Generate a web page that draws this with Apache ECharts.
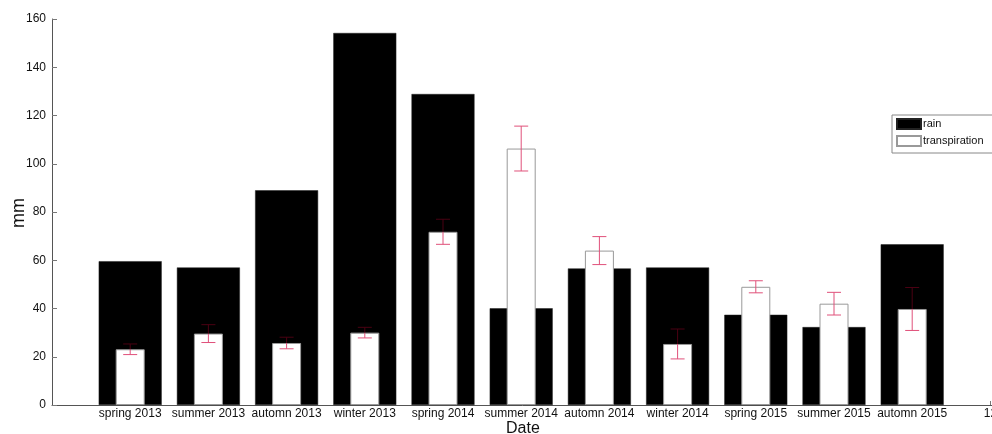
<!DOCTYPE html>
<html>
<head>
<meta charset="utf-8">
<script src="https://cdn.jsdelivr.net/npm/echarts@6/dist/echarts.min.js"></script>
<style>html,body{margin:0;padding:0;background:#fff}#c{width:992px;height:434px}</style>
</head>
<body>
<div id="c"></div>
<script>
const categories = ['spring 2013','summer 2013','automn 2013','winter 2013','spring 2014','summer 2014','automn 2014','winter 2014','spring 2015','summer 2015','automn 2015'];
const positions = [1,2,3,4,5,6,7,8,9,10,11];
const rain = [59.6, 57, 89, 154.2, 128.9, 40.1, 56.6, 57, 37.4, 32.3, 66.6];
const transpiration = [23.1, 29.6, 25.7, 30, 71.8, 106.3, 64, 25.3, 49, 42, 39.8];
const transpErr = [2.2, 3.7, 2.4, 2.2, 5.2, 9.3, 5.8, 6.2, 2.5, 4.7, 8.9];
const yTicks = [0, 20, 40, 60, 80, 100, 120, 140, 160];
const extraTickLabel = {12: '12'};

const chart = echarts.init(document.getElementById('c'), null, {renderer: 'canvas'});
const FONT = 'Liberation Sans, Arial, sans-serif';
const PINK = '#e0507a';
const DARK = '#4a0012';

const rainData = positions.map((x, i) => [x, rain[i]]);
const trData = positions.map((x, i) => [x, transpiration[i]]);
const errData = positions.map((x, i) => [x, transpiration[i], transpErr[i], rain[i]]);

function xLabel(v) {
  const i = positions.indexOf(v);
  if (i >= 0) return categories[i];
  return extraTickLabel[v] || '';
}

const option = {
  backgroundColor: '#ffffff',
  animation: false,
  textStyle: {fontFamily: FONT},
  grid: {left: 52, top: 19, bottom: 29, right: -76.6, containLabel: false, outerBoundsMode: 'none'},
  legend: {
    orient: 'vertical', left: 892, top: 115,
    backgroundColor: '#fff', borderColor: '#888', borderWidth: 1,
    padding: [3, 90, 6, 4], itemGap: 5, itemWidth: 24, itemHeight: 10,
    icon: 'rect',
    textStyle: {fontSize: 11, color: '#111', fontFamily: FONT, padding: [0, 0, 0, -3]},
    data: ['rain', 'transpiration']
  },
  xAxis: [{
    type: 'value', min: 0, max: 13, interval: 1,
    axisLine: {show: true, lineStyle: {color: '#555', width: 1}},
    axisTick: {show: true, inside: true, length: 4, lineStyle: {color: '#777'}},
    splitLine: {show: false},
    axisLabel: {formatter: xLabel, fontSize: 12, color: '#111', margin: 3, fontFamily: FONT, showMinLabel: false, showMaxLabel: false, hideOverlap: false}
  }, {
    type: 'value', min: 0, max: 13, interval: 1, show: false
  }],
  yAxis: {
    type: 'value', min: yTicks[0], max: yTicks[yTicks.length - 1], interval: yTicks[1] - yTicks[0],
    axisLine: {show: true, lineStyle: {color: '#555', width: 1}},
    axisTick: {show: true, inside: true, length: 5, lineStyle: {color: '#777'}},
    splitLine: {show: false},
    axisLabel: {fontSize: 12, color: '#111', margin: 6, fontFamily: FONT}
  },
  graphic: [{
    type: 'text', left: 506, top: 421,
    style: {text: 'Date', font: '16px ' + FONT, fill: '#111'}
  }, {
    type: 'text', x: 19, y: 213, rotation: Math.PI / 2,
    style: {text: 'mm', font: '18px ' + FONT, fill: '#111', align: 'center', verticalAlign: 'middle'}
  }],
  series: [{
    name: 'rain', type: 'bar', xAxisIndex: 0, barWidth: 63, data: rainData, z: 1,
    itemStyle: {color: '#000', borderColor: '#222', borderWidth: 0.5}
  }, {
    name: 'transpiration', type: 'bar', xAxisIndex: 1, barWidth: 29, data: trData, z: 3,
    itemStyle: {color: '#fff', borderColor: '#999', borderWidth: 1}
  }, {
    name: 'err', type: 'custom', xAxisIndex: 0, z: 5, data: errData,
    renderItem: function (params, api) {
      const x = api.value(0), t = api.value(1), e = api.value(2), r = api.value(3);
      const lo = t - e, hi = t + e;
      const cap = 7;
      const children = [];
      const seg = (a, b, col) => {
        if (b <= a) return;
        const p1 = api.coord([x, a]), p2 = api.coord([x, b]);
        children.push({type: 'line', shape: {x1: p1[0], y1: p1[1], x2: p2[0], y2: p2[1]}, style: {stroke: col, lineWidth: 1}});
      };
      const inBlack = v => (r > t && v > t && v < r);
      const capAt = v => {
        const p = api.coord([x, v]);
        children.push({type: 'line', shape: {x1: p[0] - cap, y1: p[1], x2: p[0] + cap, y2: p[1]}, style: {stroke: inBlack(v) ? DARK : PINK, lineWidth: 1}});
      };
      if (r > t) {
        seg(lo, Math.min(hi, t), PINK);
        seg(Math.max(lo, t), Math.min(hi, r), DARK);
        seg(Math.max(lo, r), hi, PINK);
      } else {
        seg(lo, hi, PINK);
      }
      capAt(lo); capAt(hi);
      return {type: 'group', children: children};
    }
  }]
};
chart.setOption(option);
</script>
</body>
</html>
